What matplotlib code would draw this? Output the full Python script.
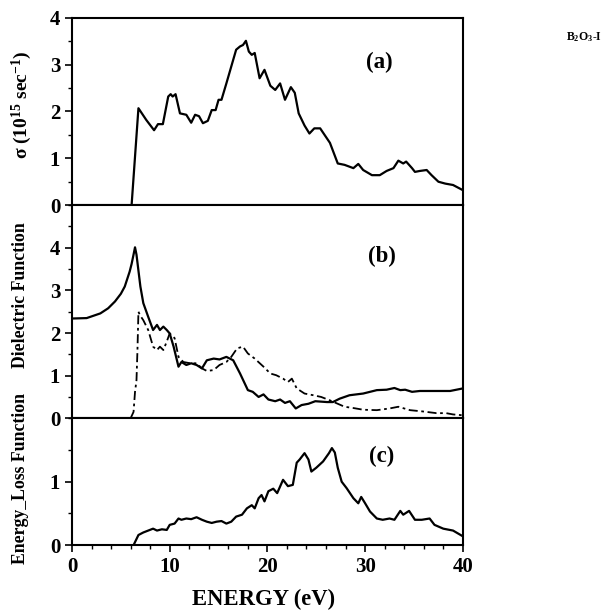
import matplotlib
matplotlib.use("Agg")
import matplotlib.pyplot as plt
from matplotlib.ticker import MultipleLocator

# (a) optical conductivity
sigma_e = [6.1, 6.8, 7.6, 8.4, 8.8, 9.3, 9.85, 10.1, 10.3, 10.6, 11.05, 11.7, 12.2, 12.6, 13.0,
           13.4, 13.9, 14.3, 14.7, 15.0, 15.3, 15.8, 16.3, 16.8, 17.2, 17.5, 17.8, 18.1, 18.4,
           18.7, 19.2, 19.7, 20.3, 20.8, 21.3, 21.8, 22.4, 22.8, 23.2, 23.8, 24.3, 24.8, 25.4,
           26.4, 27.2, 27.9, 28.8, 29.3, 29.8, 30.7, 31.5, 32.2, 32.9, 33.4, 33.9, 34.2, 34.8,
           35.1, 35.6, 36.3, 36.8, 37.5, 38.2, 39.0, 40.0]
sigma_v = [0, 2.07, 1.82, 1.6, 1.73, 1.73, 2.32, 2.37, 2.32, 2.37, 1.96, 1.93, 1.76, 1.93, 1.90,
           1.75, 1.80, 2.03, 2.03, 2.25, 2.25, 2.60, 2.96, 3.32, 3.39, 3.42, 3.51, 3.28, 3.21,
           3.25, 2.71, 2.89, 2.55, 2.46, 2.60, 2.25, 2.52, 2.40, 1.96, 1.70, 1.53, 1.64, 1.64,
           1.33, 0.89, 0.86, 0.79, 0.88, 0.75, 0.64, 0.64, 0.73, 0.79, 0.95, 0.89, 0.93, 0.79,
           0.71, 0.73, 0.75, 0.64, 0.50, 0.46, 0.43, 0.32]

# (b) dielectric function, real (solid) and imaginary (dashed)
eps1_e = [0, 1.5, 2.9, 3.7, 4.4, 5.0, 5.4, 5.9, 6.1, 6.3, 6.45, 6.6, 7.0, 7.3, 7.8, 8.3, 8.7,
          9.0, 9.35, 9.7, 10.0, 10.4, 10.9, 11.2, 11.7, 12.2, 12.75, 13.3, 13.8, 14.5, 15.1,
          15.8, 16.5, 17.2, 18.0, 18.5, 19.1, 19.6, 20.1, 20.8, 21.3, 21.8, 22.3, 22.9, 23.5,
          24.2, 24.9, 26.1, 26.7, 27.4, 28.4, 29.8, 31.2, 32.2, 33.0, 33.6, 34.1, 34.8, 35.6,
          37.3, 38.7, 40.0]
eps1_v = [2.34, 2.35, 2.46, 2.58, 2.74, 2.92, 3.09, 3.44, 3.62, 3.84, 4.01, 3.84, 3.09, 2.70,
          2.38, 2.07, 2.19, 2.07, 2.15, 2.07, 1.99, 1.68, 1.21, 1.32, 1.25, 1.29, 1.25, 1.17,
          1.36, 1.40, 1.38, 1.44, 1.36, 1.05, 0.66, 0.62, 0.50, 0.56, 0.44, 0.40, 0.44, 0.36,
          0.40, 0.23, 0.31, 0.34, 0.40, 0.38, 0.38, 0.46, 0.54, 0.58, 0.66, 0.67, 0.71, 0.66,
          0.67, 0.62, 0.64, 0.64, 0.64, 0.70]
eps2_e = [6.0, 6.3, 6.45, 6.6, 6.7, 6.8, 6.95, 7.3, 7.8, 8.3, 8.7, 9.0, 9.35, 9.7, 10.0, 10.5,
          10.9, 11.4, 12.1, 12.75, 13.3, 13.8, 14.5, 15.1, 15.8, 16.3, 16.9, 17.5, 18.0, 18.7,
          19.6, 20.3, 20.9, 21.6, 22.1, 22.5, 23.0, 23.8, 24.7, 25.5, 26.4, 27.1, 27.9, 28.8,
          29.8, 31.2, 32.5, 33.4, 34.6, 35.9, 37.3, 38.3, 39.0, 40.0]
eps2_v = [0, 0.15, 0.62, 0.89, 1.6, 2.5, 2.42, 2.30, 2.07, 1.68, 1.60, 1.68, 1.60, 1.80, 1.99,
          1.88, 1.44, 1.32, 1.29, 1.29, 1.17, 1.11, 1.13, 1.25, 1.32, 1.44, 1.64, 1.68, 1.52,
          1.40, 1.21, 1.05, 1.01, 0.93, 0.85, 0.93, 0.70, 0.58, 0.54, 0.50, 0.42, 0.35, 0.27,
          0.24, 0.20, 0.19, 0.23, 0.27, 0.19, 0.16, 0.12, 0.12, 0.09, 0.07]

# (c) energy loss function
elf_e = [6.3, 6.8, 7.3, 7.8, 8.3, 8.7, 9.2, 9.7, 10.0, 10.5, 10.9, 11.2, 11.7, 12.2, 12.75, 13.3,
         13.8, 14.3, 14.8, 15.3, 15.8, 16.3, 16.8, 17.4, 17.9, 18.4, 18.7, 19.1, 19.4, 19.7,
         20.1, 20.6, 21.0, 21.6, 22.1, 22.6, 23.0, 23.3, 23.8, 24.2, 24.5, 25.0, 25.7, 26.3,
         26.6, 26.9, 27.2, 27.6, 28.1, 28.8, 29.3, 29.6, 30.0, 30.5, 31.2, 31.8, 32.5, 33.0,
         33.6, 33.9, 34.5, 35.1, 35.8, 36.6, 37.1, 38.0, 39.0, 40.0]
elf_v = [0, 0.16, 0.20, 0.23, 0.26, 0.23, 0.25, 0.24, 0.32, 0.34, 0.42, 0.40, 0.42, 0.41, 0.44,
         0.40, 0.37, 0.35, 0.37, 0.38, 0.34, 0.37, 0.45, 0.48, 0.58, 0.63, 0.58, 0.74, 0.79,
         0.69, 0.85, 0.89, 0.82, 1.03, 0.93, 0.95, 1.30, 1.35, 1.45, 1.35, 1.16, 1.22, 1.32,
         1.45, 1.53, 1.46, 1.22, 1.00, 0.90, 0.74, 0.66, 0.76, 0.66, 0.53, 0.42, 0.40, 0.42,
         0.40, 0.54, 0.48, 0.54, 0.40, 0.40, 0.42, 0.32, 0.26, 0.23, 0.14]

plt.rcParams["font.family"] = "Liberation Serif"
plt.rcParams["font.weight"] = "bold"
plt.rcParams["mathtext.fontset"] = "custom"
plt.rcParams["mathtext.rm"] = "Liberation Serif:bold"
plt.rcParams["mathtext.it"] = "Liberation Serif:bold"
plt.rcParams["mathtext.bf"] = "Liberation Serif:bold"

fig = plt.figure(figsize=(6.05, 6.16), dpi=100)
left, width = 0.119, 0.646
ax_a = fig.add_axes([left, 0.667, width, 0.304])
ax_b = fig.add_axes([left, 0.321, width, 0.346], sharex=ax_a)
ax_c = fig.add_axes([left, 0.115, width, 0.206], sharex=ax_a)

ax_a.plot(sigma_e, sigma_v, color="black", lw=1.6)
ax_b.plot(eps1_e, eps1_v, color="black", lw=1.6)
ax_b.plot(eps2_e, eps2_v, color="black", lw=1.3, ls=(0, (5, 2, 1.5, 2)))
ax_c.plot(elf_e, elf_v, color="black", lw=1.6)

ax_a.set_ylim(0, 4)
ax_a.set_yticks([0, 1, 2, 3, 4])
ax_b.set_ylim(0, 5)
ax_b.set_yticks([0, 1, 2, 3, 4])
ax_c.set_ylim(0, 2)
ax_c.set_yticks([0, 1])
ax_c.set_xlim(0, 40)
ax_c.set_xticks([0, 10, 20, 30, 40])

for ax in (ax_a, ax_b, ax_c):
    ax.yaxis.set_minor_locator(MultipleLocator(0.5))
    ax.xaxis.set_minor_locator(MultipleLocator(2))
    ax.tick_params(which="major", direction="out", length=5, width=1.2, labelsize=15)
    ax.tick_params(which="minor", direction="out", length=3, width=1.0)
    for s in ax.spines.values():
        s.set_linewidth(1.5)
for ax in (ax_a, ax_b):
    ax.tick_params(labelbottom=False)

ax_a.text(31.5, 3.05, "(a)", ha="center", va="center", fontsize=16.5)
ax_b.text(31.7, 3.8, "(b)", ha="center", va="center", fontsize=16.5)
ax_c.text(31.7, 1.4, "(c)", ha="center", va="center", fontsize=16.5)

fig.text(22 / 605, 1 - 105 / 616, r"$\sigma$ (10$^{15}$ sec$^{-1}$)", rotation=90,
         ha="center", va="center", fontsize=14)
fig.text(21 / 605, 1 - 295 / 616, "Dielectric Function", rotation=90,
         ha="center", va="center", fontsize=12.8)
fig.text(21 / 605, 1 - 478 / 616, "Energy_Loss Function", rotation=90,
         ha="center", va="center", fontsize=12.8)
fig.text(264 / 605, 1 - 599 / 616, "ENERGY (eV)", ha="center", va="center", fontsize=16.3)
fig.text(584 / 605, 1 - 37 / 616, r"B$_2$O$_3$-I", ha="center", va="center", fontsize=8.5)

fig.savefig("out.png", dpi=100)
